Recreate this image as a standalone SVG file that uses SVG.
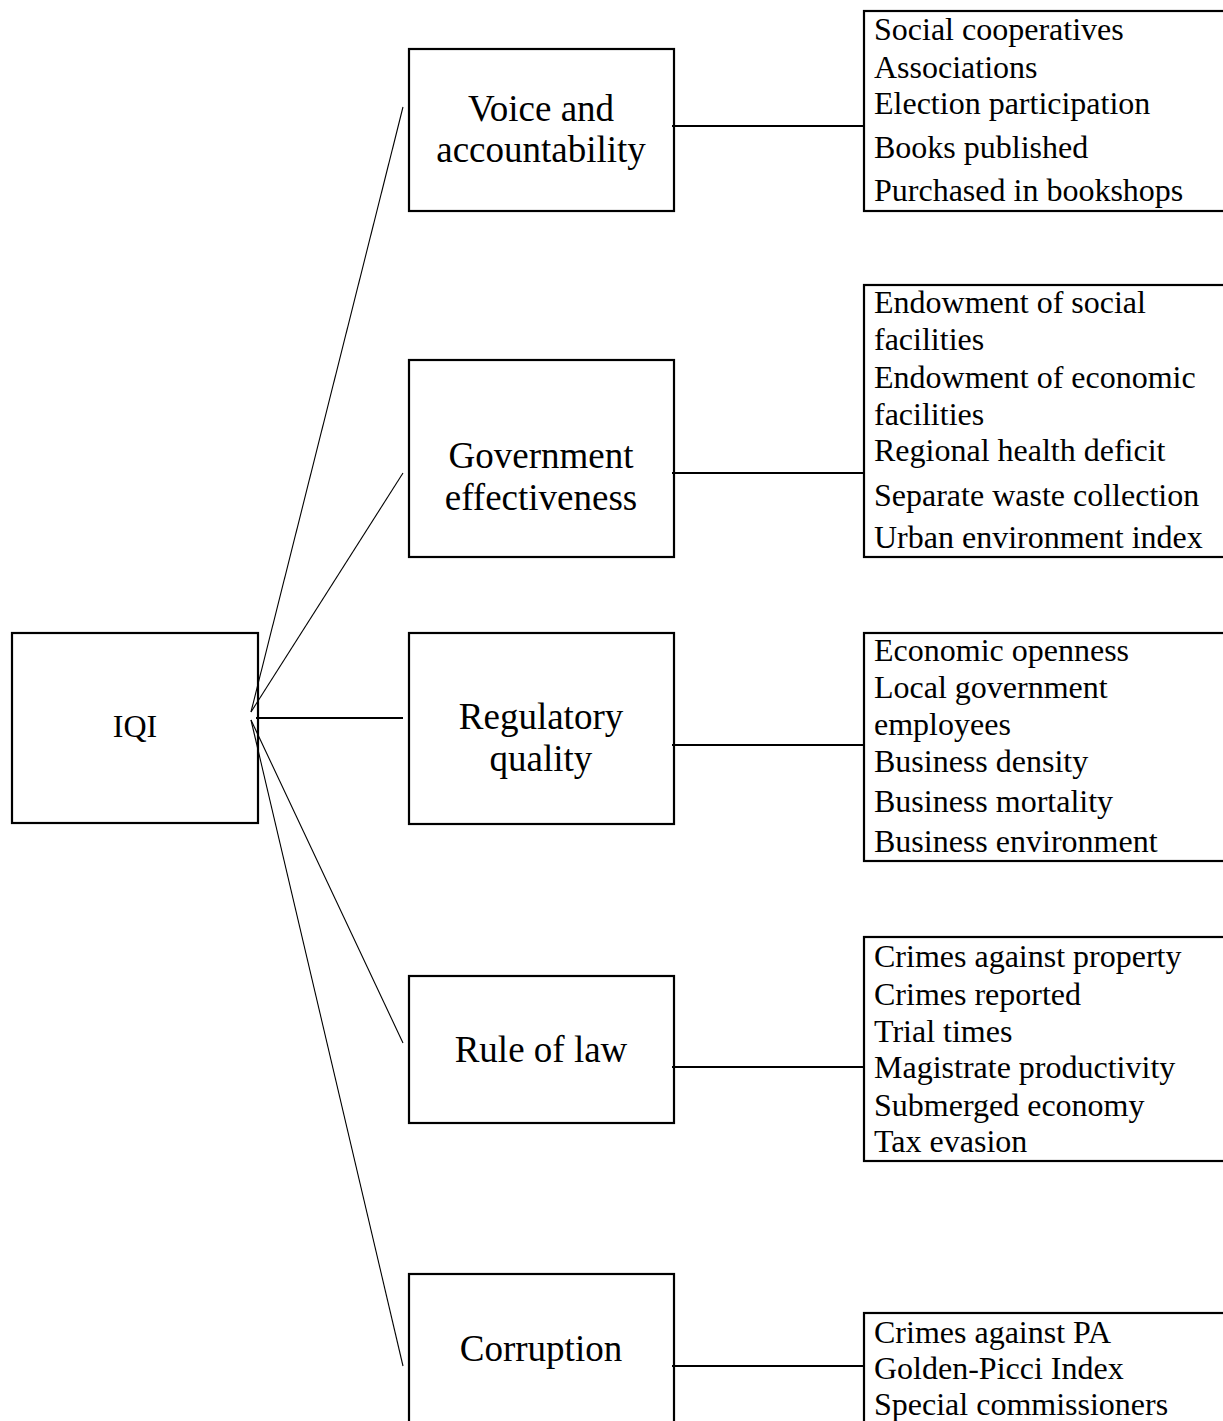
<svg xmlns="http://www.w3.org/2000/svg" width="1223" height="1421" viewBox="0 0 1223 1421">
<style>
.b{fill:#fff;stroke:#000;stroke-width:2.2}
text{font-family:"Liberation Serif","Times New Roman",serif;fill:#000}
.m{font-size:37px;text-anchor:middle}
.l{font-size:32px}
.i{font-size:32px;text-anchor:middle}
.d{stroke:#000;stroke-width:1.1;fill:none}
.h{stroke:#000;stroke-width:2;fill:none}
</style>
<rect width="1223" height="1421" style="fill:#fff;stroke:none"/>
<g id="iqi">
<rect class="b" x="12" y="633" width="246" height="190"/>
<text class="i" x="135" y="737">IQI</text>
</g>
<g id="voice">
<rect class="b" x="409" y="49" width="265" height="162"/>
<text class="m" x="541" y="121">Voice and</text>
<text class="m" x="541" y="162">accountability</text>
</g>
<g id="government">
<rect class="b" x="409" y="360" width="265" height="197"/>
<text class="m" x="541" y="468">Government</text>
<text class="m" x="541" y="510">effectiveness</text>
</g>
<g id="regulatory">
<rect class="b" x="409" y="633" width="265" height="191"/>
<text class="m" x="541" y="729">Regulatory</text>
<text class="m" x="541" y="771">quality</text>
</g>
<g id="rule">
<rect class="b" x="409" y="976" width="265" height="147"/>
<text class="m" x="541" y="1062">Rule of law</text>
</g>
<g id="corruption">
<rect class="b" x="409" y="1274" width="265" height="200"/>
<text class="m" x="541" y="1361">Corruption</text>
</g>
<g id="list-voice">
<rect class="b" x="864" y="11" width="400" height="200"/>
<text class="l" x="874" y="40">Social cooperatives</text>
<text class="l" x="874" y="78">Associations</text>
<text class="l" x="874" y="114">Election participation</text>
<text class="l" x="874" y="158">Books published</text>
<text class="l" x="874" y="201">Purchased in bookshops</text>
</g>
<g id="list-government">
<rect class="b" x="864" y="285" width="400" height="272"/>
<text class="l" x="874" y="313">Endowment of social</text>
<text class="l" x="874" y="350">facilities</text>
<text class="l" x="874" y="388">Endowment of economic</text>
<text class="l" x="874" y="425">facilities</text>
<text class="l" x="874" y="461">Regional health deficit</text>
<text class="l" x="874" y="506">Separate waste collection</text>
<text class="l" x="874" y="548">Urban environment index</text>
</g>
<g id="list-regulatory">
<rect class="b" x="864" y="633" width="400" height="228"/>
<text class="l" x="874" y="661">Economic openness</text>
<text class="l" x="874" y="698">Local government</text>
<text class="l" x="874" y="735">employees</text>
<text class="l" x="874" y="772">Business density</text>
<text class="l" x="874" y="812">Business mortality</text>
<text class="l" x="874" y="852">Business environment</text>
</g>
<g id="list-rule">
<rect class="b" x="864" y="937" width="400" height="224"/>
<text class="l" x="874" y="967">Crimes against property</text>
<text class="l" x="874" y="1005">Crimes reported</text>
<text class="l" x="874" y="1042">Trial times</text>
<text class="l" x="874" y="1078">Magistrate productivity</text>
<text class="l" x="874" y="1116">Submerged economy</text>
<text class="l" x="874" y="1152">Tax evasion</text>
</g>
<g id="list-corruption">
<rect class="b" x="864" y="1313" width="400" height="160"/>
<text class="l" x="874" y="1343">Crimes against PA</text>
<text class="l" x="874" y="1379">Golden-Picci Index</text>
<text class="l" x="874" y="1415">Special commissioners</text>
</g>
<g id="connectors">
<line class="d" x1="251" y1="712" x2="403" y2="107"/>
<line class="d" x1="251" y1="712" x2="403" y2="473"/>
<line class="h" x1="256" y1="718" x2="403" y2="718"/>
<line class="d" x1="251" y1="720" x2="403" y2="1043"/>
<line class="d" x1="251" y1="720" x2="403" y2="1366"/>
<line class="h" x1="672" y1="126" x2="864" y2="126"/>
<line class="h" x1="672" y1="473" x2="864" y2="473"/>
<line class="h" x1="672" y1="745" x2="864" y2="745"/>
<line class="h" x1="672" y1="1067" x2="864" y2="1067"/>
<line class="h" x1="672" y1="1366" x2="864" y2="1366"/>
</g>
</svg>
